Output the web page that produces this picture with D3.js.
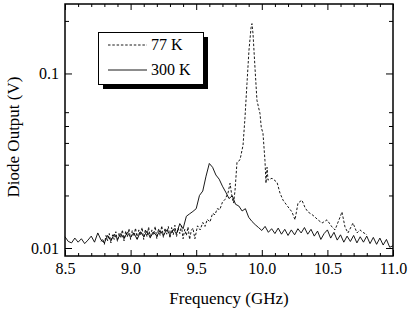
<!DOCTYPE html>
<html lang="en">
<head>
<meta charset="UTF-8">
<title>Diode Output vs Frequency</title>
<style>
    body { margin: 0; background: #fff; }
    .tick line { stroke: #000; stroke-width: 1; }
    .curve { fill: none; stroke: #000; stroke-width: 0.9; }
    .dashed { stroke-dasharray: 2.5, 1.8; }
</style>
<script src="https://d3js.org/d3.v7.min.js"></script>
</head>
<body>
<div id="chart"></div>
<script>
// ---- data ----
// 300 K trace: [frequency GHz, diode output V]
const trace300K = [
    [8.500, 0.0116], [8.525, 0.0109], [8.550, 0.0107], [8.575, 0.0114], [8.600, 0.0108],
    [8.625, 0.0113], [8.650, 0.0106], [8.675, 0.0111], [8.700, 0.0117], [8.725, 0.0108],
    [8.750, 0.0122], [8.775, 0.0111], [8.800, 0.0107], [8.825, 0.0118], [8.850, 0.0110],
    [8.875, 0.0120], [8.900, 0.0112], [8.925, 0.0121], [8.950, 0.0113], [8.975, 0.0123],
    [9.000, 0.0115], [9.025, 0.0122], [9.050, 0.0112], [9.075, 0.0124], [9.100, 0.0116],
    [9.125, 0.0125], [9.150, 0.0115], [9.175, 0.0123], [9.200, 0.0117], [9.225, 0.0126],
    [9.250, 0.0118], [9.275, 0.0127], [9.300, 0.0119], [9.325, 0.0128], [9.350, 0.0121],
    [9.375, 0.0138], [9.400, 0.0129], [9.425, 0.0152], [9.450, 0.0157], [9.475, 0.0162],
    [9.500, 0.0168], [9.525, 0.0200], [9.550, 0.0212], [9.575, 0.0258], [9.600, 0.0305],
    [9.625, 0.0290], [9.650, 0.0262], [9.675, 0.0248], [9.700, 0.0226], [9.725, 0.0209],
    [9.750, 0.0192], [9.775, 0.0199], [9.800, 0.0178], [9.825, 0.0174], [9.850, 0.0163],
    [9.875, 0.0168], [9.900, 0.0150], [9.925, 0.0142], [9.950, 0.0136], [9.975, 0.0131],
    [10.000, 0.0126], [10.025, 0.0133], [10.050, 0.0123], [10.075, 0.0129], [10.100, 0.0121],
    [10.125, 0.0130], [10.150, 0.0120], [10.175, 0.0128], [10.200, 0.0118], [10.225, 0.0127],
    [10.250, 0.0119], [10.275, 0.0129], [10.300, 0.0122], [10.325, 0.0131], [10.350, 0.0120],
    [10.375, 0.0128], [10.400, 0.0117], [10.425, 0.0125], [10.450, 0.0112], [10.475, 0.0121],
    [10.500, 0.0127], [10.525, 0.0114], [10.550, 0.0123], [10.575, 0.0111], [10.600, 0.0119],
    [10.625, 0.0108], [10.650, 0.0117], [10.675, 0.0109], [10.700, 0.0118], [10.725, 0.0107],
    [10.750, 0.0116], [10.775, 0.0108], [10.800, 0.0117], [10.825, 0.0106], [10.850, 0.0115],
    [10.875, 0.0105], [10.900, 0.0114], [10.925, 0.0104], [10.950, 0.0112], [10.975, 0.0101],
    [11.000, 0.0103]
];

// 77 K trace
const trace77K = [
    [8.775, 0.0109], [8.7875, 0.0113], [8.800, 0.0105], [8.8125, 0.0118], [8.825, 0.0110],
    [8.8375, 0.0121], [8.850, 0.0107], [8.8625, 0.0119], [8.875, 0.0112], [8.8875, 0.0124],
    [8.900, 0.0109], [8.9125, 0.0122], [8.925, 0.0114], [8.9375, 0.0127], [8.950, 0.0110],
    [8.9625, 0.0125], [8.975, 0.0116], [8.9875, 0.0129], [9.000, 0.0112], [9.0125, 0.0126],
    [9.025, 0.0117], [9.0375, 0.0130], [9.050, 0.0113], [9.0625, 0.0127], [9.075, 0.0118],
    [9.0875, 0.0131], [9.100, 0.0112], [9.1125, 0.0128], [9.125, 0.0116], [9.1375, 0.0132],
    [9.150, 0.0114], [9.1625, 0.0127], [9.175, 0.0119], [9.1875, 0.0133], [9.200, 0.0113],
    [9.2125, 0.0129], [9.225, 0.0118], [9.2375, 0.0134], [9.250, 0.0115], [9.2625, 0.0130],
    [9.275, 0.0120], [9.2875, 0.0133], [9.300, 0.0114], [9.3125, 0.0131], [9.325, 0.0119],
    [9.3375, 0.0135], [9.350, 0.0116], [9.3625, 0.0130], [9.375, 0.0121], [9.3875, 0.0134],
    [9.400, 0.0113], [9.4125, 0.0128], [9.425, 0.0118], [9.4375, 0.0132], [9.450, 0.0112],
    [9.4625, 0.0126], [9.475, 0.0130], [9.490, 0.0113],
    [9.510, 0.0134], [9.530, 0.0127], [9.550, 0.0140], [9.567, 0.0133], [9.585, 0.0146],
    [9.605, 0.0141], [9.625, 0.0158], [9.643, 0.0155], [9.660, 0.0168], [9.680, 0.0166],
    [9.700, 0.0183], [9.720, 0.0190], [9.742, 0.0206], [9.758, 0.0235], [9.773, 0.0196],
    [9.785, 0.0181], [9.796, 0.0214], [9.811, 0.0310], [9.834, 0.0320], [9.857, 0.0388],
    [9.872, 0.0561], [9.887, 0.0876], [9.902, 0.135], [9.918, 0.183], [9.925, 0.193],
    [9.933, 0.169], [9.948, 0.108], [9.963, 0.0702], [9.975, 0.0640], [9.986, 0.0591],
    [9.996, 0.0491], [10.009, 0.0454], [10.024, 0.0318], [10.032, 0.0235], [10.040, 0.0290],
    [10.047, 0.0245], [10.078, 0.0251], [10.116, 0.0238], [10.139, 0.0206], [10.162, 0.0188],
    [10.200, 0.0172], [10.230, 0.0161], [10.253, 0.0145], [10.276, 0.0181], [10.306, 0.0188],
    [10.330, 0.0170], [10.352, 0.0161], [10.390, 0.0154], [10.428, 0.0145], [10.459, 0.0139],
    [10.497, 0.0145], [10.535, 0.0132], [10.558, 0.0127], [10.596, 0.0150], [10.611, 0.0161],
    [10.634, 0.0132], [10.657, 0.0122], [10.695, 0.0139], [10.726, 0.0122], [10.748, 0.0127],
    [10.771, 0.0123], [10.802, 0.0119]
];

const xMajor = [8.5, 9.0, 9.5, 10.0, 10.5, 11.0];
const xMinor = [8.6, 8.7, 8.8, 8.9, 9.1, 9.2, 9.3, 9.4, 9.6, 9.7, 9.8, 9.9,
                10.1, 10.2, 10.3, 10.4, 10.6, 10.7, 10.8, 10.9];
const yMajor = [0.01, 0.1];
const yMinor = [0.02, 0.03, 0.04, 0.05, 0.06, 0.2];
const yLabels = ["0.01", "0.1"];

const seriesNames = ["77 K", "300 K"];

// ---- layout ----
const width = 409, height = 312;
const plotL = 65, plotR = 393, plotT = 4, plotB = 256;
const serif = '"Liberation Serif"';

const svg = d3.select("#chart").append("svg")
    .attr("width", width)
    .attr("height", height);

const x = d3.scaleLinear().domain([8.5, 11.0]).range([plotL, plotR]);
const y = d3.scaleLog().domain([0.009, 0.25]).range([plotB, plotT]);

// ticks (all pointing inward)
function addAxis(axis, tx, ty) {
    const g = svg.append("g").attr("transform", `translate(${tx},${ty})`).call(axis);
    g.select(".domain").remove();
    g.selectAll("text")
        .style("font-family", serif)
        .style("font-size", "16px")
        .attr("fill", "#000");
    return g;
}

addAxis(d3.axisBottom(x).tickValues(xMajor).tickSize(-6).tickPadding(7)
    .tickFormat(d3.format(".1f")), 0, plotB);
addAxis(d3.axisBottom(x).tickValues(xMinor).tickSize(-3).tickFormat(""), 0, plotB);
addAxis(d3.axisTop(x).tickValues(xMajor).tickSize(-6).tickFormat(""), 0, plotT);
addAxis(d3.axisTop(x).tickValues(xMinor).tickSize(-3).tickFormat(""), 0, plotT);

addAxis(d3.axisLeft(y).tickValues(yMajor).tickSize(-7).tickPadding(6)
    .tickFormat((d, i) => yLabels[i]), plotL, 0);
addAxis(d3.axisLeft(y).tickValues(yMinor).tickSize(-4).tickFormat(""), plotL, 0);
addAxis(d3.axisRight(y).tickValues(yMajor).tickSize(-7).tickFormat(""), plotR, 0);
addAxis(d3.axisRight(y).tickValues(yMinor).tickSize(-4).tickFormat(""), plotR, 0);

// curves
const line = d3.line().x(d => x(d[0])).y(d => y(d[1]));

svg.append("path").datum(trace300K)
    .attr("class", "curve")
    .attr("d", line);

svg.append("path").datum(trace77K)
    .attr("class", "curve dashed")
    .attr("d", line);

// frame
svg.append("rect")
    .attr("x", plotL).attr("y", plotT)
    .attr("width", plotR - plotL).attr("height", plotB - plotT)
    .attr("fill", "none").attr("stroke", "#000").attr("stroke-width", 1.5);

// axis titles
svg.append("text")
    .attr("x", (plotL + plotR) / 2).attr("y", 304)
    .attr("text-anchor", "middle")
    .style("font-family", serif)
    .style("font-size", "17px")
    .text("Frequency (GHz)");

svg.append("text")
    .attr("transform", "translate(19,137) rotate(-90)")
    .attr("text-anchor", "middle")
    .style("font-family", serif)
    .style("font-size", "17px")
    .text("Diode Output (V)");

// legend with drop shadow
const legend = svg.append("g");
legend.append("rect")
    .attr("x", 103).attr("y", 37).attr("width", 105).attr("height", 52)
    .attr("fill", "#000");
legend.append("rect")
    .attr("x", 98.5).attr("y", 32.5).attr("width", 105).attr("height", 52)
    .attr("fill", "#fff").attr("stroke", "#000").attr("stroke-width", 1);

seriesNames.forEach((name, i) => {
    const ly = 45 + i * 25;
    legend.append("line")
        .attr("class", i === 0 ? "curve dashed" : "curve")
        .attr("x1", 108).attr("x2", 147)
        .attr("y1", ly).attr("y2", ly);
    legend.append("text")
        .attr("x", 151).attr("y", ly + 5)
        .style("font-family", serif)
        .style("font-size", "16px")
        .text(name);
});
</script>
</body>
</html>
